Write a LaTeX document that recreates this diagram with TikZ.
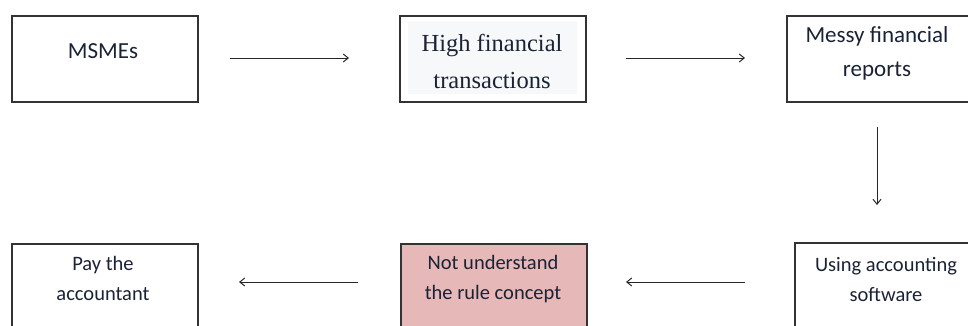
\documentclass[tikz,border=0pt]{standalone}
\usepackage{fontspec}
\setmainfont{Carlito}
\newfontfamily\serifface{Liberation Serif}
\usetikzlibrary{arrows.meta}
\definecolor{edgegray}{HTML}{333333}
\definecolor{rosefill}{HTML}{E6B8B7}
\definecolor{paleblue}{HTML}{F7F8FA}
\definecolor{inkblue}{HTML}{1A2236}
\tikzset{
  box/.style={draw=edgegray, line width=1.4pt, rectangle, inner sep=0pt},
  label text/.style={inner sep=0pt, align=center, text=inkblue},
  flow/.style={draw=black!85, line width=1pt,
    -{Straight Barb[length=5pt,width=8pt,line width=1pt]}}
}
\begin{document}
\begin{tikzpicture}[x=1pt,y=-1pt]
  \useasboundingbox (0,0) rectangle (968,325);
  \clip (0,0) rectangle (968,325);

  % top row
  \node[box, minimum width=186pt, minimum height=86pt] (msme) at (105,59) {};
  \node[box, minimum width=186pt, minimum height=86pt] (high) at (493,59) {};
  \node[fill=paleblue, minimum width=169pt, minimum height=73pt, inner sep=0pt] (highbg) at (492.5,57.5) {};
  \node[box, minimum width=220pt, minimum height=86pt] (messy) at (897,59) {};

  % bottom row (boxes run past the lower edge)
  \node[box, minimum width=186pt, minimum height=110pt] (pay) at (105,299) {};
  \node[box, fill=rosefill, minimum width=186pt, minimum height=110pt] (nund) at (494,299) {};
  \node[box, minimum width=220pt, minimum height=110pt] (soft) at (905,298) {};

  % texts
  \node[label text, font=\fontsize{23}{23}\selectfont, anchor=base] (tmsme) at (103,58) {MSMEs};
  \node[label text, font=\serifface\fontsize{24.5}{37}\selectfont] (thigh) at (492,61) {High financial\\transactions};
  \node[label text, font=\fontsize{23}{34}\selectfont] (tmessy) at (877,53) {Messy financial\\reports};
  \node[label text, font=\fontsize{20.5}{30}\selectfont] (tpay) at (103,278.5) {Pay the\\accountant};
  \node[label text, font=\fontsize{20.5}{30}\selectfont] (tnund) at (493,279) {Not understand\\the rule concept};
  \node[label text, font=\fontsize{20.5}{30}\selectfont] (tsoft) at (886,279) {Using accounting\\software};

  % connector end points
  \coordinate (a1s) at (230,58);  \coordinate (a1e) at (349,58);
  \coordinate (a2s) at (626,58);  \coordinate (a2e) at (745,58);
  \coordinate (a3s) at (877,127); \coordinate (a3e) at (877,205);
  \coordinate (a4s) at (745,282); \coordinate (a4e) at (626,282);
  \coordinate (a5s) at (358,282); \coordinate (a5e) at (239,282);

  \draw[flow] (a1s) -- (a1e);
  \draw[flow] (a2s) -- (a2e);
  \draw[flow] (a3s) -- (a3e);
  \draw[flow] (a4s) -- (a4e);
  \draw[flow] (a5s) -- (a5e);
\end{tikzpicture}
\end{document}
